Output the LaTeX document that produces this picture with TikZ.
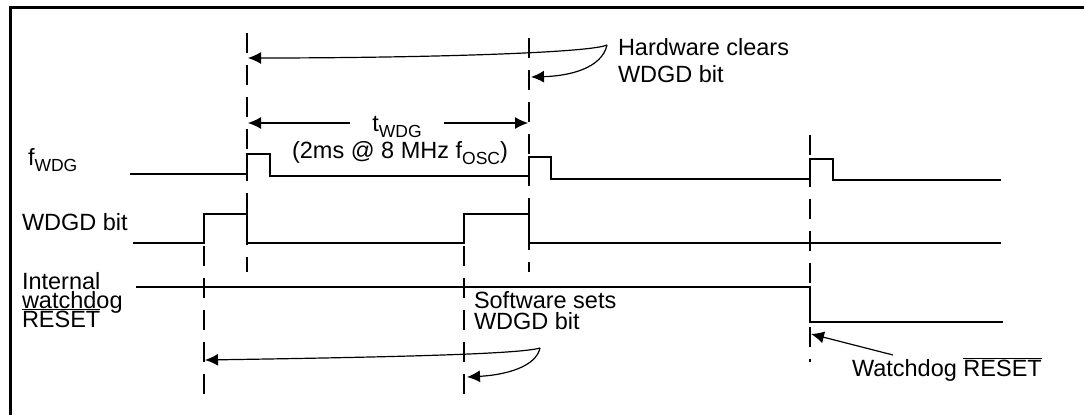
\documentclass[tikz,border=0pt]{standalone}
\usepackage{fontspec}
\setmainfont{Liberation Sans}
\usetikzlibrary{arrows.meta}
\newcommand{\lowtxt}[1]{\raisebox{-6pt}{\fontsize{17.5}{17.5}\selectfont #1}}
\newcommand{\ovl}[1]{$\overline{\mbox{#1}}$}
\begin{document}
\begin{tikzpicture}[x={(1pt,0pt)},y={(0pt,-1pt)},
  every node/.style={inner sep=0pt, outer sep=0pt, font=\fontsize{23.5}{27}\selectfont},
  lbl/.style={anchor=base west},
  sig/.style={line width=2pt},
  dsh/.style={line width=2pt, dash pattern=on 20pt off 12pt},
  arr/.style={line width=1.2pt, -{Latex[length=13pt,width=12pt]}},
  darr/.style={line width=1.2pt, {Latex[length=13pt,width=12pt]}-{Latex[length=13pt,width=12pt]}}]
\useasboundingbox (0,0) rectangle (1084,415);
\draw[line width=3pt] (10,415) -- (10,7) -- (1084,7);
\draw[dsh] (247,33) -- (247,272);
\draw[dsh] (529,38) -- (529,272);
\draw[dsh] (204,214) -- (204,398);
\draw[dsh] (464,214) -- (464,398);
\draw[dsh] (810,135) -- (810,362);
\draw[sig] (130,174) -- (247,174) -- (247,154) -- (270,154) -- (270,176) -- (529,176) -- (529,157) -- (551,157) -- (551,179) -- (810,179) -- (810,159) -- (833,159) -- (833,180) -- (1001,180);
\draw[sig] (133,243) -- (204,243) -- (204,214) -- (247,214) -- (247,243) -- (464,243) -- (464,214) -- (529,214) -- (529,243) -- (1001,243);
\draw[sig] (136,287) -- (810,287) -- (810,322) -- (1003,322);
\node[lbl] (fw) at (28,165) {f\lowtxt{WDG}};
\node[lbl] (wb) at (22,230) {WDGD bit};
\node[lbl] (ir1) at (22,289) {Internal};
\node[lbl] (ir2) at (22,308) {watchdog};
\node[lbl] (ir3) at (22,327) {\ovl{RESET}};
\node[lbl] (hwa) at (618,55) {Hardware clears};
\node[lbl] (hwb) at (618,82) {WDGD bit};
\node[lbl] (ssa) at (474,308) {Software sets};
\node[lbl] (ssb) at (474,329) {WDGD bit};
\node[lbl] (wr) at (852,376) {Watchdog \ovl{RESET}};
\coordinate (hwsrc) at (607,45);
\coordinate (hwl) at (248,58);
\coordinate (hwr) at (531,77);
\coordinate (tl) at (248,123);
\coordinate (tr) at (528,123);
\coordinate (sssrc) at (540,348);
\coordinate (ssl) at (205,360);
\coordinate (ssr) at (467,377);
\coordinate (wrsrc) at (893,355);
\coordinate (wrt) at (811,334);
\draw[arr] (hwsrc) .. controls (590,53) and (420,58) .. (hwl);
\draw[arr] (hwsrc) .. controls (602,68) and (570,76) .. (hwr);
\draw[darr] (tl) -- (tr);
\node[anchor=base, fill=white, inner xsep=22pt] (tw) at (397,131) {t\lowtxt{WDG}};
\node[anchor=base] (twn) at (400,158) {(2ms @ 8 MHz f\lowtxt{OSC})};
\draw[arr] (sssrc) .. controls (520,354) and (400,357) .. (ssl);
\draw[arr] (sssrc) .. controls (536,367) and (505,375) .. (ssr);
\draw[arr] (wrsrc) -- (wrt);
\end{tikzpicture}
\end{document}
